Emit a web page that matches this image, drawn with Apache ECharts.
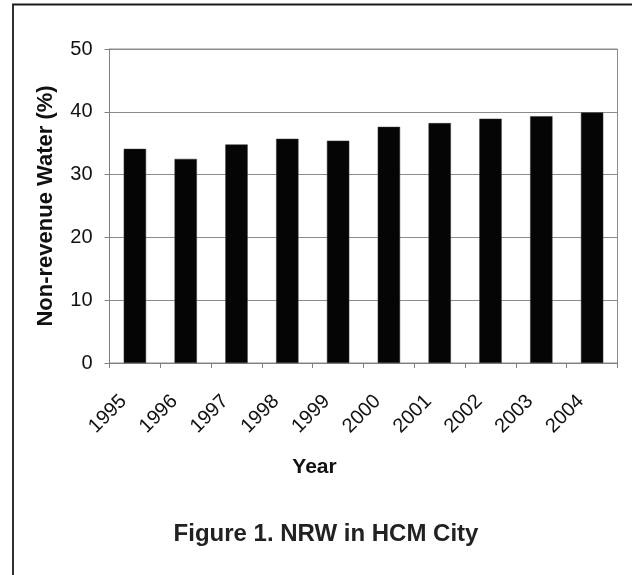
<!DOCTYPE html>
<html>
<head>
<meta charset="utf-8">
<script src="https://cdn.jsdelivr.net/npm/echarts@6/dist/echarts.min.js"></script>
<style>
html,body{margin:0;padding:0;background:#fff;}
#chart{width:632px;height:575px;}
</style>
</head>
<body>
<div id="chart"></div>
<script>
const years = ['1995','1996','1997','1998','1999','2000','2001','2002','2003','2004'];
const nrwValues = [34.1, 32.5, 34.8, 35.7, 35.4, 37.6, 38.2, 38.9, 39.3, 39.9];
const yTicks = [0, 10, 20, 30, 40, 50];
const yAxisTitle = 'Non-revenue Water (%)';
const xAxisTitle = 'Year';
const figureTitle = 'Figure 1. NRW in HCM City';

const FONT = '"Liberation Sans", Arial, sans-serif';
const chart = echarts.init(document.getElementById('chart'), null, {renderer: 'canvas'});
chart.setOption({
  animation: false,
  backgroundColor: '#fff',
  title: {
    text: figureTitle,
    left: 321, top: 517, textAlign: 'center',
    textStyle: {fontFamily: FONT, fontSize: 24, fontWeight: 'bold', color: '#222'}
  },
  graphic: [{
    type: 'rect', silent: true, z: 0,
    shape: {x: 13, y: 4.5, width: 800, height: 800},
    style: {fill: 'none', stroke: '#1a1a1a', lineWidth: 1.8}
  }],
  grid: {
    left: 109.5, right: 14.5, top: 49, bottom: 212,
    show: true, borderColor: '#8c8c8c', borderWidth: 1, backgroundColor: 'transparent'
  },
  xAxis: {
    type: 'category',
    data: years,
    name: xAxisTitle,
    nameLocation: 'middle',
    nameGap: 94,
    nameTextStyle: {fontFamily: FONT, fontSize: 21, fontWeight: 'bold', color: '#111', padding: [0, 98, 0, 0]},
    axisLine: {lineStyle: {color: '#808080', width: 1}},
    axisTick: {show: true, length: 5, lineStyle: {color: '#808080'}},
    axisLabel: {rotate: 45, margin: 24, padding: [0, 16, 0, 0], fontFamily: FONT, fontSize: 20, color: '#111', interval: 0}
  },
  yAxis: {
    type: 'value',
    min: yTicks[0], max: yTicks[yTicks.length - 1], interval: 10,
    name: yAxisTitle,
    nameLocation: 'middle',
    nameRotate: 90,
    nameGap: 53,
    nameTextStyle: {fontFamily: FONT, fontSize: 22, fontWeight: 'bold', color: '#111'},
    axisLine: {show: true, lineStyle: {color: '#808080', width: 1}},
    axisTick: {show: true, length: 5, lineStyle: {color: '#808080'}},
    axisLabel: {margin: 17, fontFamily: FONT, fontSize: 20, color: '#111'},
    splitLine: {show: true, lineStyle: {color: '#8c8c8c', width: 1}}
  },
  series: [{
    type: 'bar',
    data: nrwValues,
    barWidth: '44%',
    itemStyle: {color: '#050505', borderColor: '#333', borderWidth: 0.5}
  }]
});
</script>
</body>
</html>
